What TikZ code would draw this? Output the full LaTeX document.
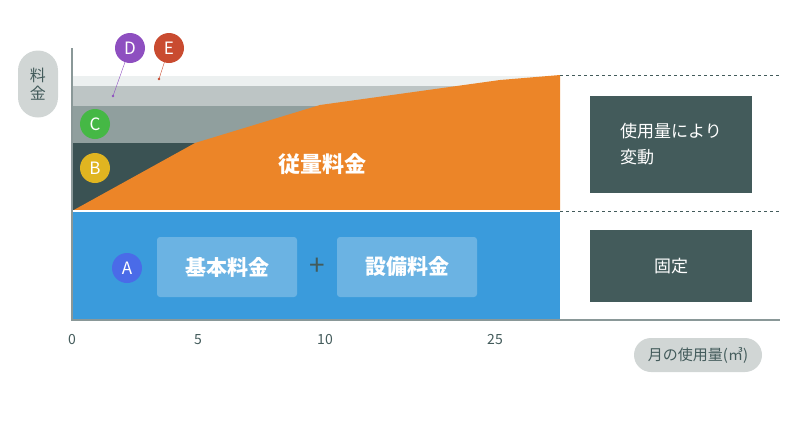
\documentclass[tikz,border=0pt]{standalone}
\usepackage{fontspec}
\setmainfont{Noto Sans CJK JP}
\usetikzlibrary{positioning}
\definecolor{bandE}{HTML}{ECF0F0}
\definecolor{bandD}{HTML}{BDC5C5}
\definecolor{bandC}{HTML}{909F9E}
\definecolor{bandB}{HTML}{3A5253}
\definecolor{baseblue}{HTML}{3A9BDC}
\definecolor{innerblue}{HTML}{6BB3E3}
\definecolor{usageorange}{HTML}{EC8528}
\definecolor{darkbox}{HTML}{435B5B}
\definecolor{pillgray}{HTML}{D1D6D5}
\definecolor{axisgray}{HTML}{8A9898}
\definecolor{badgeA}{HTML}{4A6BE8}
\definecolor{badgeB}{HTML}{E0B520}
\definecolor{badgeC}{HTML}{45B845}
\definecolor{badgeD}{HTML}{8E4FC0}
\definecolor{badgeE}{HTML}{C94B30}
\tikzset{
  badge/.style={circle,fill=#1,text=white,minimum size=30pt,inner sep=0pt,font=\fontsize{17}{17}\selectfont},
  sidebox/.style={fill=darkbox,text=white,minimum width=162pt,align=left,font=\fontsize{17}{26}\selectfont},
  innerbox/.style={fill=innerblue,rounded corners=3pt,minimum width=140pt,minimum height=60pt,text=white,font=\bfseries\fontsize{21}{21}\selectfont},
  tick/.style={text=darkbox,font=\fontsize{14}{14}\selectfont}
}
\begin{document}
\begin{tikzpicture}[x=1pt,y=-1pt]
\useasboundingbox (0,0) rectangle (801,421);
% bands
\fill[bandE] (72,76) rectangle (560,86);
\fill[bandD] (72,86) rectangle (560,106);
\fill[bandC] (72,106) rectangle (560,143);
\fill[bandB] (72,143) rectangle (560,211);
\fill[baseblue] (72,211) rectangle (560,320);
\fill[usageorange] (72,211) -- (195,143) -- (320,105) -- (500,80) -- (560,75) -- (560,211) -- cycle;
\draw[white,line width=1.2pt] (72,211) -- (560,211);
% axes
\draw[axisgray,line width=1.2pt] (72,48) -- (72,320) -- (780,320);
\draw[darkbox,dashed,dash pattern=on 3pt off 3pt] (560,75) -- (780,75) (560,211) -- (780,211);
\foreach \x/\t in {72/0,198/5,325/10,495/25}{\node[tick] (t\t) at (\x,340) {\t};}
% pills
\node[fill=pillgray,rounded corners=20pt,minimum width=40pt,minimum height=67pt,text=darkbox,align=center,font=\fontsize{16}{18}\selectfont] (yl) at (38,84) {料\\金};
\node[fill=pillgray,rounded corners=17pt,minimum width=128pt,minimum height=34pt,text=darkbox,font=\fontsize{15}{15}\selectfont] (xl) at (698,355) {月の使用量(㎥)};
% side boxes
\node[sidebox,minimum height=97pt] (vary) at (671,144.5) {使用量により\\変動};
\node[sidebox,minimum height=72pt,align=center] (fixed) at (671,266) {固定};
% inner
\node[innerbox] (kihon) at (227,267) {基本料金};
\node[innerbox] (setsubi) at (407,267) {設備料金};
\node[text=darkbox,font=\fontsize{28}{28}\selectfont] (plus) at (317,267) {+};
\node[text=white,font=\bfseries\fontsize{22}{22}\selectfont] (usage) at (322,164) {従量料金};
% badges
\coordinate (dpt) at (113,96);
\coordinate (ept) at (159,79);
\draw[badgeD] (130,48) -- (dpt); \fill[badgeD] (dpt) circle (1.3pt);
\draw[badgeE] (169,48) -- (ept); \fill[badgeE] (ept) circle (1.3pt);
\node[badge=badgeD] (D) at (130,48) {D};
\node[badge=badgeE] (E) at (169,48) {E};
\node[badge=badgeC] (C) at (95,124) {C};
\node[badge=badgeB] (B) at (95,168) {B};
\node[badge=badgeA] (A) at (127,268) {A};
\end{tikzpicture}
\end{document}
